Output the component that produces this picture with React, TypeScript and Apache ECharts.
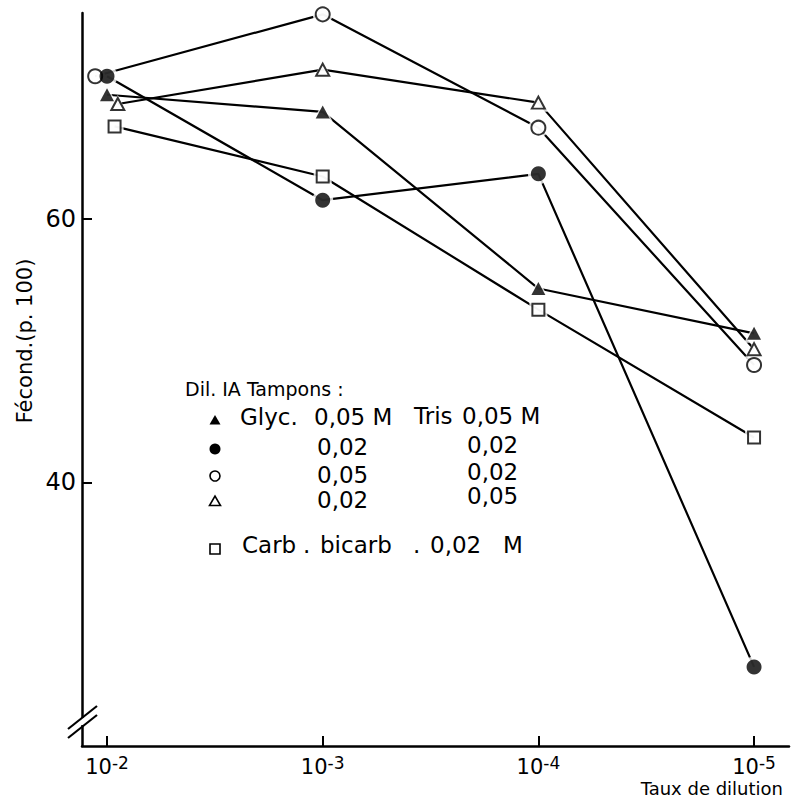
import React, { useEffect, useRef } from "react";
import * as echarts from "echarts";

// x value = -log10(dilution rate) ; tick labels 10^-2 ... 10^-5
const tickExponents = [2, 3, 4, 5];
const yTickValues = [40, 60];

// Glyc. 0,05 M / Tris 0,05 M  (filled triangle)
const xGlyc05Tris05 = [2.0, 3.0, 4.0, 5.0];
const yGlyc05Tris05 = [69.4, 68.1, 54.7, 51.3];
// Glyc. 0,02 / Tris 0,02 (filled circle)
const xGlyc02Tris02 = [2.0, 3.0, 4.0, 5.0];
const yGlyc02Tris02 = [70.8, 61.4, 63.4, 26.0];
// Glyc. 0,05 / Tris 0,02 (open circle)
const xGlyc05Tris02 = [1.945, 3.0, 4.0, 5.0];
const yGlyc05Tris02 = [70.8, 75.5, 66.9, 48.9];
// Glyc. 0,02 / Tris 0,05 (open triangle)
const xGlyc02Tris05 = [2.05, 3.0, 4.0, 5.0];
const yGlyc02Tris05 = [68.7, 71.3, 68.8, 50.1];
// Carb. bicarb. 0,02 M (open square)
const xCarb = [2.035, 3.0, 4.0, 5.0];
const yCarb = [67.0, 63.2, 53.1, 43.4];

const FONT = "DejaVu Sans";

type Def = {
  name: string;
  xs: number[];
  ys: number[];
  symbol: string;
  size: number[];
  filled: boolean;
};

const defs: Def[] = [
  { name: "Carb. bicarb. 0,02 M", xs: xCarb, ys: yCarb, symbol: "rect", size: [12, 12], filled: false },
  { name: "Glyc. 0,02 / Tris 0,05", xs: xGlyc02Tris05, ys: yGlyc02Tris05, symbol: "triangle", size: [13, 12], filled: false },
  { name: "Glyc. 0,05 / Tris 0,05", xs: xGlyc05Tris05, ys: yGlyc05Tris05, symbol: "triangle", size: [14, 13], filled: true },
  { name: "Glyc. 0,05 / Tris 0,02", xs: xGlyc05Tris02, ys: yGlyc05Tris02, symbol: "circle", size: [14, 14], filled: false },
  { name: "Glyc. 0,02 / Tris 0,02", xs: xGlyc02Tris02, ys: yGlyc02Tris02, symbol: "circle", size: [15, 15], filled: true },
];

function buildSeries() {
  const out: any[] = [];
  defs.forEach((d) => {
    const data = d.xs.map((x, i) => [x, d.ys[i]]);
    out.push({
      name: d.name,
      type: "line",
      data,
      symbol: "none",
      lineStyle: { color: "#000", width: 2.2 },
      z: 2,
      silent: true,
    });
    out.push({
      name: d.name + " halo",
      type: "scatter",
      data,
      symbol: d.symbol,
      symbolSize: [d.size[0] + 6, d.size[1] + 6],
      itemStyle: { color: "#fff" },
      z: 3,
      silent: true,
    });
    out.push({
      name: d.name + " marker",
      type: "scatter",
      data,
      symbol: d.symbol,
      symbolSize: d.size,
      itemStyle: d.filled
        ? { color: "#000" }
        : { color: "#fff", borderColor: "#000", borderWidth: 2 },
      z: 4,
      silent: true,
    });
  });
  return out;
}

function txt(text: string, x: number, y: number, fontSize: number, align = "left") {
  return {
    type: "text",
    x,
    y,
    z: 10,
    style: {
      text,
      fill: "#000",
      fontSize,
      fontFamily: FONT,
      align,
      verticalAlign: "middle",
    },
  };
}

function buildGraphic() {
  const g: any[] = [];
  // axis break
  g.push({ type: "rect", shape: { x: 76, y: 718, width: 12, height: 7 }, style: { fill: "#fff" }, z: 20 });
  g.push({ type: "line", shape: { x1: 68, y1: 729, x2: 97, y2: 706 }, style: { stroke: "#000", lineWidth: 2.2 }, z: 21 });
  g.push({ type: "line", shape: { x1: 68, y1: 738, x2: 97, y2: 715 }, style: { stroke: "#000", lineWidth: 2.2 }, z: 21 });

  // y axis title
  g.push({
    type: "text",
    x: 25,
    y: 341,
    rotation: Math.PI / 2,
    z: 10,
    style: { text: "Fécond.(p. 100)", fill: "#000", fontSize: 21, fontFamily: FONT, align: "center", verticalAlign: "middle" },
  });
  // x axis title
  g.push(txt("Taux de dilution", 783, 788, 18, "right"));

  // legend block
  const F = 23;
  g.push(txt("Dil. IA Tampons :", 185, 389, 19));
  g.push(txt("Glyc.", 240, 417, F));
  g.push(txt("0,05 M", 314, 417, F));
  g.push(txt("Tris", 414, 416, F));
  g.push(txt("0,05 M", 462, 416, F));
  g.push(txt("0,02", 317, 447, F));
  g.push(txt("0,02", 467, 445, F));
  g.push(txt("0,05", 317, 475, F));
  g.push(txt("0,02", 467, 472, F));
  g.push(txt("0,02", 317, 500, F));
  g.push(txt("0,05", 467, 496, F));
  g.push(txt("Carb", 242, 545, F));
  g.push(txt(".", 303, 545, F));
  g.push(txt("bicarb", 320, 545, F));
  g.push(txt(".", 413, 545, F));
  g.push(txt("0,02", 430, 545, F));
  g.push(txt("M", 503, 545, F));

  // legend symbols
  g.push({ type: "polygon", shape: { points: [[209.5, 424.5], [220.5, 424.5], [215, 415]] }, style: { fill: "#000" }, z: 10 });
  g.push({ type: "circle", shape: { cx: 215, cy: 449, r: 5.5 }, style: { fill: "#000" }, z: 10 });
  g.push({ type: "circle", shape: { cx: 215, cy: 476, r: 5 }, style: { fill: "#fff", stroke: "#000", lineWidth: 1.6 }, z: 10 });
  g.push({ type: "polygon", shape: { points: [[209.5, 505.5], [220.5, 505.5], [215, 496]] }, style: { fill: "#fff", stroke: "#000", lineWidth: 1.6 }, z: 10 });
  g.push({ type: "rect", shape: { x: 210, y: 544, width: 10, height: 10 }, style: { fill: "#fff", stroke: "#000", lineWidth: 1.6 }, z: 10 });
  return g;
}

export default function App() {
  const ref = useRef<HTMLDivElement>(null);
  useEffect(() => {
    if (!ref.current) return;
    const chart = echarts.init(ref.current, null, { renderer: "svg" });
    const option: any = {
      animation: false,
      backgroundColor: "#fff",
      grid: { left: 82, right: 7, top: 13, bottom: 55 },
      xAxis: {
        type: "value",
        min: 1.884,
        max: 5.162,
        splitLine: { show: false },
        axisLine: { onZero: false, lineStyle: { color: "#000", width: 2.5 } },
        axisTick: {
          show: true,
          inside: true,
          length: 10,
          customValues: tickExponents,
          lineStyle: { color: "#000", width: 2 },
        },
        axisLabel: {
          customValues: tickExponents,
          margin: 8,
          formatter: (v: number) => `{b|10}{s|-${Math.round(v)}}`,
          rich: {
            b: { fontSize: 21, fontFamily: FONT, color: "#000", lineHeight: 26, verticalAlign: "middle" },
            s: { fontSize: 17, fontFamily: FONT, color: "#000", lineHeight: 17, verticalAlign: "top" },
          },
        },
      },
      yAxis: {
        type: "value",
        min: 20,
        max: 75.6,
        splitLine: { show: false },
        axisLine: { onZero: false, lineStyle: { color: "#000", width: 2.5 } },
        axisTick: {
          show: true,
          inside: true,
          length: 10,
          customValues: yTickValues,
          lineStyle: { color: "#000", width: 2 },
        },
        axisLabel: {
          customValues: yTickValues,
          margin: 6,
          fontSize: 24,
          fontFamily: FONT,
          color: "#000",
        },
      },
      series: buildSeries(),
      graphic: buildGraphic(),
    };
    chart.setOption(option);
    return () => chart.dispose();
  }, []);
  return (
    <div
      ref={ref}
      style={{ position: "absolute", left: 0, top: 0, width: 796, height: 801, background: "#fff" }}
    />
  );
}
